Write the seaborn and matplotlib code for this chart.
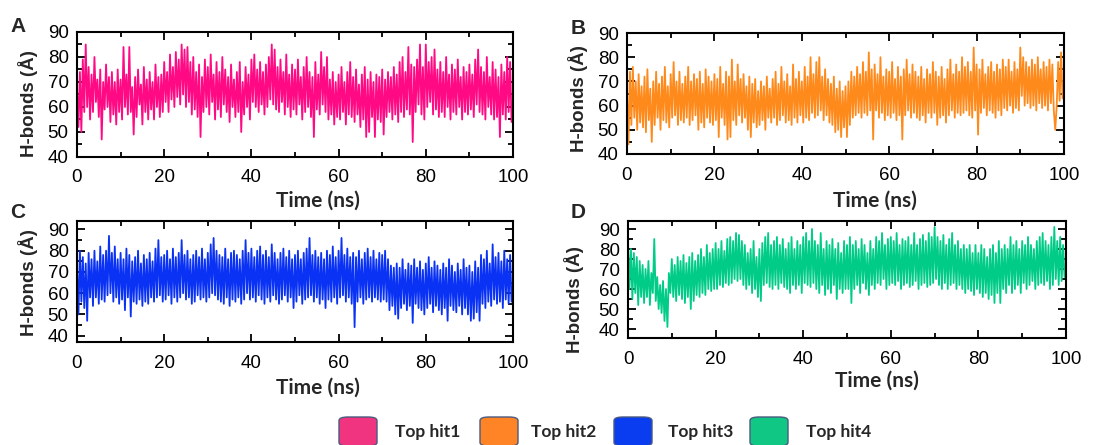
import numpy as np
import pandas as pd
import matplotlib
matplotlib.use("Agg")
import matplotlib.pyplot as plt
import seaborn as sns
from matplotlib.patches import FancyBboxPatch
from matplotlib.ticker import MultipleLocator

# ---------------- data (1/3 ns steps) ----------------
series_names = ["Top hit1", "Top hit2", "Top hit3", "Top hit4"]
panel_letters = ["A", "B", "C", "D"]
colors = ["#FF0A84", "#FF8A1C", "#0A32F5", "#00CC88"]
legend_colors = ["#F0347F", "#FF8426", "#0A3CF0", "#10C883"]

hit1 = [68,52,74,50,79,58,85,60,76,55, 73,58,80,62,71,56,75,47,70,59,
        77,60,72,54,74,57,70,53,75,58, 71,55,84,60,73,57,84,58,68,49,
        72,56,75,61,69,53,76,58,71,55, 74,59,70,55,77,60,72,56,73,58,
        78,62,74,58,81,63,76,60,82,64, 79,61,85,65,83,60,84,62,78,57,
        80,59,74,56,77,48,72,58,79,60, 76,57,81,62,73,55,78,59,74,56,
        80,61,75,58,72,54,77,60,71,56, 74,58,78,50,70,57,76,60,73,55,
        79,62,81,60,75,58,78,61,74,57, 77,60,80,63,85,61,83,59,76,58,
        79,62,74,57,81,60,73,56,77,59, 75,57,79,61,72,55,76,58,80,60,
        74,56,72,48,78,59,73,57,82,61, 76,58,80,55,71,57,74,53,70,56,
        73,55,76,58,70,53,74,57,78,56, 72,54,75,57,69,52,73,55,76,48,
        71,50,74,56,70,48,73,55,72,54, 75,49,71,56,74,58,72,55,76,57,
        73,54,78,58,80,56,74,59,84,57, 77,46,76,58,79,61,85,57,76,55,
        85,60,78,62,80,57,83,59,75,56, 78,58,74,56,80,60,73,55,77,58,
        75,57,79,60,72,55,76,58,74,57, 77,59,73,56,79,61,83,58,76,57,
        74,55,80,60,72,57,78,55,75,56, 72,48,77,57,74,55,80,58,78,54]
hit2 = [66,44,74,52,76,55,70,50,73,53, 68,51,72,49,75,54,67,45,70,52,
        74,55,69,50,72,54,76,53,68,51, 73,55,78,56,70,52,74,54,69,53,
        72,55,76,52,70,54,73,56,71,50, 74,53,69,51,75,55,72,53,70,52,
        73,54,71,47,76,55,69,52,74,46, 72,47,79,54,70,52,77,56,71,53,
        73,55,68,50,72,47,69,53,71,51, 66,52,70,54,68,50,72,55,67,53,
        71,55,74,52,69,54,76,56,70,53, 73,54,68,52,77,55,71,53,74,56,
        70,53,76,55,72,54,80,57,73,55, 78,56,80,58,72,54,75,56,71,53,
        69,52,72,49,67,50,70,47,66,51, 68,47,70,52,74,55,72,56,76,57,
        73,55,78,57,74,56,82,58,75,46, 77,58,73,55,80,57,72,54,75,56,
        74,55,78,57,71,54,76,56,72,46, 75,56,79,58,73,55,77,57,74,55,
        72,54,76,56,71,53,75,57,73,55, 78,57,74,52,72,55,76,56,71,53,
        75,56,79,58,73,55,77,57,74,56, 80,57,76,58,78,56,74,55,84,58,
        77,48,75,57,79,59,73,56,76,58, 78,57,74,55,77,58,75,56,79,59,
        76,58,79,60,74,57,78,59,75,58, 84,64,80,60,78,61,76,59,79,60,
        77,58,80,61,75,59,78,60,76,58, 79,61,77,58,50,60,78,62,82,63]
hit3 = [72,50,80,56,77,53,74,47,79,58, 76,54,80,58,75,55,82,57,78,56,
        80,59,87,60,79,56,82,58,76,55, 79,57,76,52,81,58,78,49,75,56,
        77,55,80,57,74,54,78,56,76,55, 79,58,75,56,81,58,85,59,77,56,
        78,57,80,59,76,55,81,58,77,56, 79,58,85,60,78,57,80,58,76,55,
        78,56,80,59,77,57,81,58,76,56, 79,58,83,60,86,59,80,57,78,56,
        77,55,81,58,76,54,79,57,80,56, 78,58,76,55,80,57,85,60,79,57,
        81,58,77,56,80,59,82,57,78,55, 80,58,77,56,83,59,79,57,76,55,
        79,57,81,59,77,56,80,58,76,53, 78,56,80,59,76,55,79,57,81,58,
        86,59,78,56,80,58,77,55,79,57, 76,53,80,57,78,56,82,58,77,55,
        80,58,86,59,78,56,81,58,77,55, 79,44,77,56,80,58,76,55,79,57,
        81,58,77,56,80,58,76,57,79,56, 78,57,80,56,76,52,73,54,72,50,
        74,48,72,53,76,55,71,52,74,54, 73,46,76,55,72,53,75,52,71,50,
        74,53,77,55,72,51,75,54,73,52, 71,50,74,53,72,47,76,54,73,52,
        70,51,74,54,71,50,76,53,72,50, 73,47,70,48,75,51,72,47,78,55,
        76,53,80,56,74,54,83,57,77,55, 79,56,75,53,80,57,76,55,78,56]
hit4 = [84,60,80,55,78,58,76,52,74,56, 72,53,70,56,74,52,68,58,85,54,
        66,50,62,48,64,44,60,41,68,58, 75,56,72,54,76,57,74,55,77,53,
        73,56,76,50,78,54,74,57,77,56, 80,58,76,57,82,60,78,59,80,60,
        83,60,80,62,84,61,79,63,85,62, 86,63,84,65,88,64,87,65,84,62,
        82,60,78,62,80,58,84,60,76,56, 80,54,83,62,86,63,88,61,82,60,
        84,62,86,60,82,63,85,61,80,60, 83,58,86,62,80,60,84,62,82,58,
        86,63,88,62,84,61,90,63,84,60, 82,58,88,62,80,57,84,60,82,58,
        85,62,80,55,83,60,78,58,84,60, 82,60,86,53,82,60,84,62,80,58,
        85,63,82,60,78,57,84,62,80,60, 86,63,84,62,88,65,82,60,85,62,
        86,63,84,62,88,64,82,60,85,62, 84,63,86,61,82,62,88,64,82,60,
        85,62,87,63,84,61,88,62,86,63, 91,65,86,62,84,60,87,63,82,60,
        85,62,88,63,82,60,84,62,80,60, 82,58,80,60,82,59,78,57,82,60,
        78,58,82,56,80,58,76,55,80,57, 82,53,78,58,84,53,80,60,82,58,
        80,62,86,58,82,60,84,62,80,58, 84,63,82,60,86,62,82,64,80,60,
        84,62,86,63,88,62,84,64,82,60, 86,62,91,65,84,62,86,64,82,66]
all_hits = [hit1, hit2, hit3, hit4]
time_ns = [i / 3 for i in range(300)]
x_ticks = [0, 20, 40, 60, 80, 100]
y_ticks = [40, 50, 60, 70, 80, 90]
y_limits = [(40, 90), (40, 90), (37, 94), (35.5, 94)]

# ---------------- figure ----------------
sns.set_style("ticks")
plt.rcParams['font.family'] = ['Liberation Sans', 'DejaVu Sans']

W, H = 1119, 445
fig = plt.figure(figsize=(W / 100, H / 100), dpi=100)

def fx(px):
    return px / W

def fy(py):
    return 1 - py / H

# axes boxes in pixels (left, top, right, bottom)
boxes = [(77, 32, 513, 157), (627, 33, 1064, 154),
         (77, 221, 513, 342), (628, 221, 1066, 338)]
letter_pos = [(18, 27), (578, 28), (18, 212), (578, 212)]
ylabel_pos = [(28, 104), (578, 99), (28, 283), (574, 300)]
xlabel_pos = [(318, 201), (875, 201), (318, 388), (877, 381)]

for i in range(4):
    l, t, r, b = boxes[i]
    ax = fig.add_axes([fx(l), fy(b), fx(r) - fx(l), fy(t) - fy(b)])
    df = pd.DataFrame({"Time": time_ns, "H": all_hits[i]})
    sns.lineplot(data=df, x="Time", y="H", ax=ax, color=colors[i], lw=1.3)
    ax.set_xlim(0, 100)
    ax.set_ylim(*y_limits[i])
    ax.set_xticks(x_ticks)
    ax.set_yticks(y_ticks)
    ax.xaxis.set_minor_locator(MultipleLocator(10))
    ax.yaxis.set_minor_locator(MultipleLocator(5))
    ax.tick_params(which="both", direction="in", top=True, right=True,
                   width=1.3, colors="black", labelsize=13.5)
    ax.tick_params(which="major", length=6, pad=6)
    ax.tick_params(axis="x", which="major", pad=9)
    ax.tick_params(which="minor", length=3.5)
    ax.set_xlabel("")
    ax.set_ylabel("")
    for s in ax.spines.values():
        s.set_linewidth(1.5)
        s.set_color("black")
    fig.text(fx(letter_pos[i][0]), fy(letter_pos[i][1]), panel_letters[i],
             fontsize=15, fontweight="bold", ha="center", va="center")
    fig.text(fx(ylabel_pos[i][0]), fy(ylabel_pos[i][1]), "H-bonds (Å)",
             fontsize=13.5, fontweight="bold", rotation=90,
             ha="center", va="center")
    fig.text(fx(xlabel_pos[i][0]), fy(xlabel_pos[i][1]), "Time (ns)",
             fontsize=15, fontweight="bold", ha="center", va="center",
             family=["Lato", "DejaVu Sans"])

# legend: rounded swatches + bold labels
sw_left = [339, 480, 614, 750]
txt_left = [395, 531, 668, 806]
for i in range(4):
    patch = FancyBboxPatch((fx(sw_left[i]), fy(446)), fx(38), fy(417) - fy(446),
                           boxstyle="round,pad=0,rounding_size=0.008",
                           transform=fig.transFigure, facecolor=legend_colors[i],
                           edgecolor="#4a5a80", linewidth=1.0, clip_on=False)
    fig.add_artist(patch)
    fig.text(fx(txt_left[i]), fy(432), series_names[i], fontsize=12.5,
             fontweight="bold", ha="left", va="center",
             family=["Lato", "DejaVu Sans"])

fig.savefig("out.png", dpi=100)
